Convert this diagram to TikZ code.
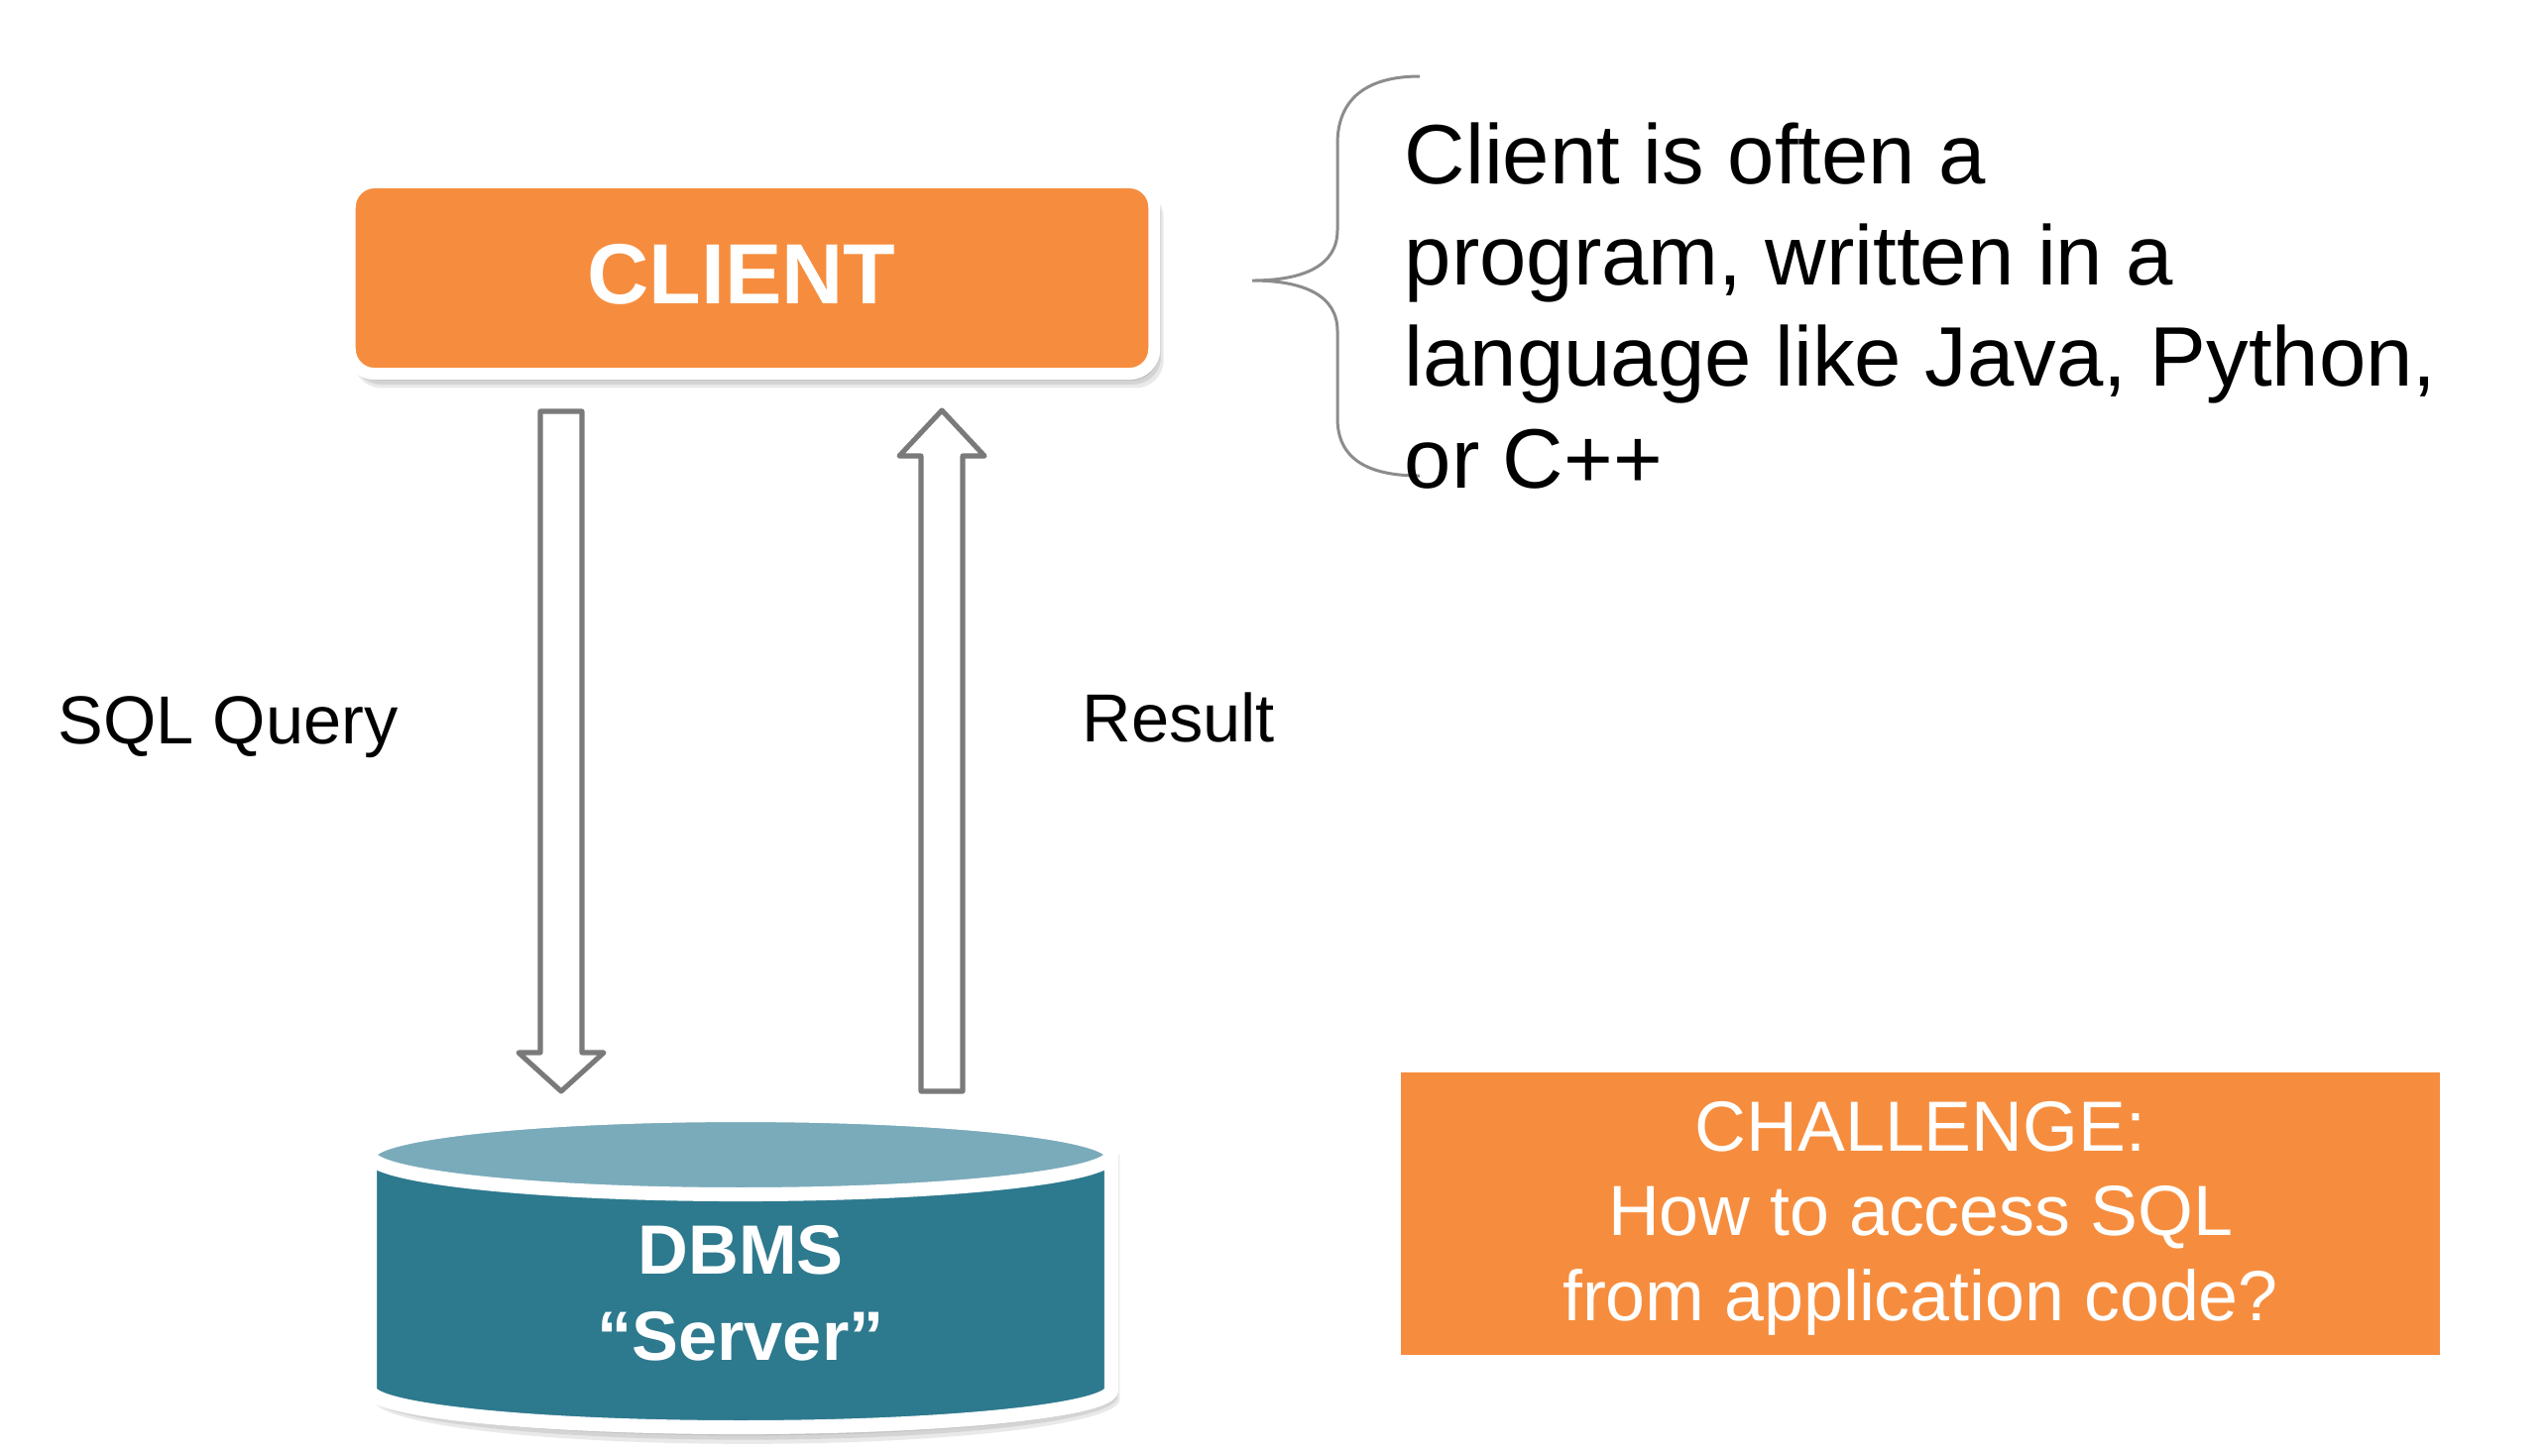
\documentclass[tikz,border=0pt]{standalone}
\usepackage{fontspec}
\setmainfont{Liberation Sans}
\usetikzlibrary{calc}
\definecolor{corange}{RGB}{246,141,62}
\definecolor{cteal}{RGB}{45,121,142}
\definecolor{cteallight}{RGB}{122,171,187}
\definecolor{carrow}{RGB}{122,122,122}
\definecolor{cbrace}{RGB}{140,140,140}
\tikzset{
  clientbox/.style={rectangle, rounded corners=0.25cm, draw=white, line width=3.4pt, fill=corange,
    minimum width=8.11cm, minimum height=1.93cm, inner sep=0pt},
  bigbold/.style={text=white, font=\fontsize{24.5}{29}\selectfont\bfseries, inner sep=0pt},
  dbbold/.style={text=white, font=\fontsize{20}{24}\selectfont\bfseries, inner sep=0pt},
  sidetext/.style={text=black, font=\fontsize{24.2}{29}\selectfont, inner sep=0pt, anchor=base west},
  lbltext/.style={text=black, font=\fontsize{19.5}{24}\selectfont, inner sep=0pt, anchor=base west},
  chaltext/.style={text=white, font=\fontsize{20.4}{24}\selectfont, inner sep=0pt, anchor=base},
  chalbox/.style={rectangle, fill=corange, minimum width=10.48cm, minimum height=2.85cm, inner sep=0pt},
  blockarrow/.style={draw=carrow, fill=white, line width=1.45pt, line join=round},
  bracestyle/.style={draw=cbrace, line width=0.85pt},
  softshadow/.style={fill=black, opacity=0.085}
}
\begin{document}
\begin{tikzpicture}[x=0.01cm,y=-0.01cm]
\useasboundingbox (0,0) rectangle (2570,1468);
\fill[white] (0,0) rectangle (2570,1468);

% shadow of client box
\foreach \s in {3,6,9,12}{
  \fill[softshadow, rounded corners=0.28cm] (353+\s*0.3,184+\s*0.6) rectangle (1164+\s*0.8,377+\s*1.2);
}
\node[clientbox] (client) at (758.5,280.5) {};
\node[bigbold, anchor=base] (clientlbl) at (748,306) {CLIENT};

% brace
\draw[bracestyle] (1432,77) .. controls (1378,77) and (1349,100) .. (1349,145)
  -- (1349,232) .. controls (1349,268) and (1315,283) .. (1263,283)
  .. controls (1315,283) and (1349,298) .. (1349,334)
  -- (1349,422) .. controls (1349,462) and (1378,480) .. (1432,480);

% side text
\node[sidetext] (t1) at (1416,185) {Client is often a};
\node[sidetext] (t2) at (1416,287) {program, written in a};
\node[sidetext] (t3) at (1416,389) {language like Java, Python,};
\node[sidetext] (t4) at (1416,492) {or C++};

% arrows
\coordinate (qtop) at (566,415);
\coordinate (qtip) at (566,1101);
\coordinate (rtip) at (950,414);
\coordinate (rbot) at (950,1101);
\draw[blockarrow] ($(qtop)+(-21,0)$) -- ($(qtop)+(21,0)$) -- (587,1062) -- (609,1062) -- (qtip)
  -- (523,1062) -- (545,1062) -- cycle;
\draw[blockarrow] ($(rbot)+(-21,0)$) -- ($(rbot)+(21,0)$) -- (971,460) -- (993,460) -- (rtip)
  -- (907,460) -- (929,460) -- cycle;

\node[lbltext] (sql) at (58,750) {SQL Query};
\node[lbltext] (res) at (1091,748) {Result};

% cylinder shadow
\foreach \s in {3,6,9,12}{
  \fill[softshadow] (373+\s*0.3,1165) -- (373+\s*0.3,1402+\s*0.8)
     arc[start angle=180, end angle=0, x radius=374+\s*0.2, y radius=38+\s*0.6]
     -- (1121+\s*0.7,1165) -- cycle;
}
% cylinder body
\draw[draw=white, line width=4pt, fill=cteal] (373,1165) -- (373,1402)
  arc[start angle=180, end angle=0, x radius=374, y radius=38] -- (1121,1165)
  arc[start angle=0, end angle=-180, x radius=374, y radius=40] -- cycle;
\draw[draw=white, line width=4pt, fill=cteallight] (747,1165) ellipse[x radius=374, y radius=40];
\node[dbbold, anchor=base] (dbms) at (747,1285) {DBMS};
\node[dbbold, anchor=base] (server) at (747,1372) {“Server”};

% challenge box
\node[chalbox] (chal) at (1937,1224.5) {};
\node[chaltext] (c1) at (1937,1161) {CHALLENGE:};
\node[chaltext] (c2) at (1937,1246) {How to access SQL};
\node[chaltext] (c3) at (1937,1332) {from application code?};
\end{tikzpicture}
\end{document}
